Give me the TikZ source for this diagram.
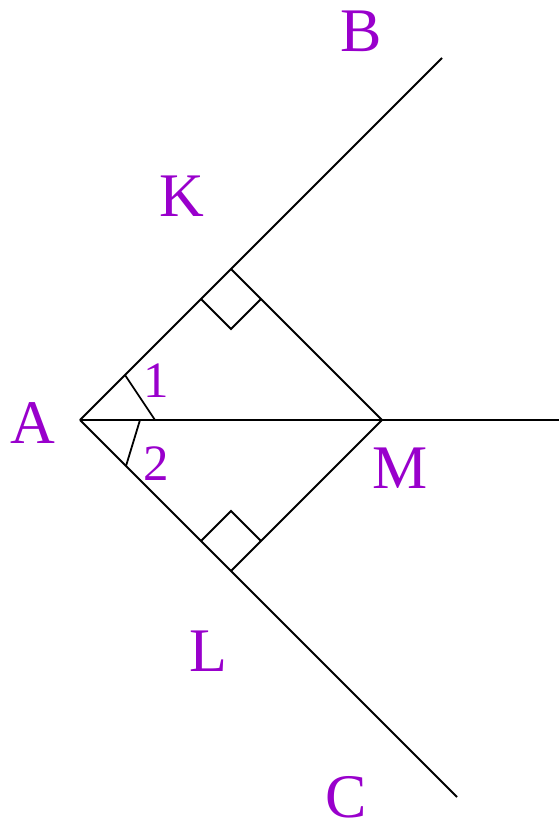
\documentclass[tikz,border=0pt]{standalone}
\usepackage{fontspec}
\setmainfont{Liberation Serif}
\definecolor{lbl}{RGB}{153,0,204}
\begin{document}
\begin{tikzpicture}[x=1pt,y=-1pt,
  seg/.style={line width=1.8pt,black},
  lab/.style={text=lbl,font=\fontsize{62}{62}\selectfont,inner sep=0pt,anchor=base},
  num/.style={text=lbl,font=\fontsize{51}{51}\selectfont,inner sep=0pt,anchor=base}]
\useasboundingbox (0,0) rectangle (559,826);
\coordinate (A) at (80,420);
\coordinate (Bend) at (442,58);
\coordinate (Cend) at (457,797);
\coordinate (Mend) at (559,420);
\coordinate (M) at (382,420);
\coordinate (K) at (231,269);
\coordinate (L) at (231,571);
\draw[seg] (A) -- (Bend);
\draw[seg] (A) -- (Cend);
\draw[seg] (A) -- (Mend);
\draw[seg] (K) -- (M) -- (L);
% right angle marks
\draw[seg] (201,299) -- (231,329) -- (261,299);
\draw[seg] (201,541) -- (231,511) -- (261,541);
% angle ticks
\draw[seg] (125,375) -- (155,420);
\draw[seg] (140,420) -- (126,466);
% labels
\node[lab] (lB) at (361,52) {B};
\node[lab] (lK) at (181.5,217) {K};
\node[lab] (lA) at (33,443) {A};
\node[lab] (lM) at (400,488) {M};
\node[lab] (lL) at (208,671) {L};
\node[lab] (lC) at (346,817) {C};
\node[num] (n1) at (156.5,397) {1};
\node[num] (n2) at (156.5,480) {2};
\end{tikzpicture}
\end{document}
